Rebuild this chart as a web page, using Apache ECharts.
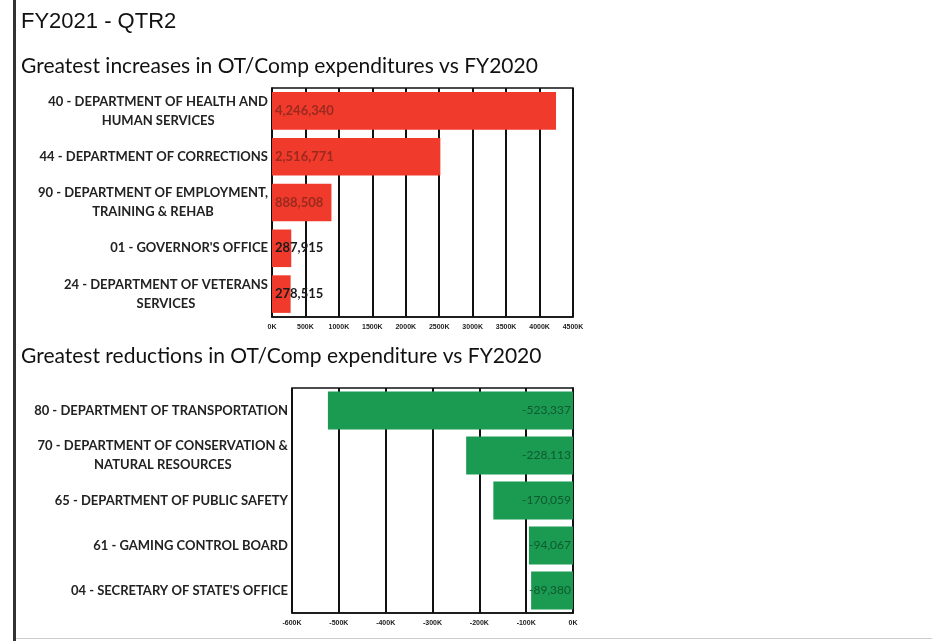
<!DOCTYPE html>
<html>
<head>
<meta charset="utf-8">
<script src="https://cdn.jsdelivr.net/npm/echarts@6/dist/echarts.min.js"></script>
<style>
  html, body { margin: 0; padding: 0; background: #fff; }
  #chart { width: 932px; height: 641px; }
</style>
</head>
<body>
<div id="chart"></div>
<script>
  var increaseCategories = [
    '40 - DEPARTMENT OF HEALTH AND\nHUMAN SERVICES',
    '44 - DEPARTMENT OF CORRECTIONS',
    '90 - DEPARTMENT OF EMPLOYMENT,\nTRAINING & REHAB',
    "01 - GOVERNOR'S OFFICE",
    '24 - DEPARTMENT OF VETERANS\nSERVICES'
  ];
  var increaseValues = [4246340, 2516771, 888508, 287915, 278515];

  var reductionCategories = [
    '80 - DEPARTMENT OF TRANSPORTATION',
    '70 - DEPARTMENT OF CONSERVATION &\nNATURAL RESOURCES',
    '65 - DEPARTMENT OF PUBLIC SAFETY',
    '61 - GAMING CONTROL BOARD',
    "04 - SECRETARY OF STATE'S OFFICE"
  ];
  var reductionValues = [-523337, -228113, -170059, -94067, -89380];

  var increaseTicks = { min: 0, max: 4500000, interval: 500000 };
  var reductionTicks = { min: -600000, max: 0, interval: 100000 };

  function fmtK(v) {
    return Math.round(v / 1000) + 'K';
  }
  function fmtNum(v) {
    var s = Math.abs(v).toString().replace(/\B(?=(\d{3})+(?!\d))/g, ',');
    return (v < 0 ? '-' : '') + s;
  }

  function valueAxis(idx, ticks) {
    return {
      type: 'value',
      gridIndex: idx,
      min: ticks.min,
      max: ticks.max,
      interval: ticks.interval,
      axisLine: { show: true, lineStyle: { color: '#111', width: 1.5 } },
      axisTick: { show: false },
      splitLine: { show: true, lineStyle: { color: '#111', width: 2 } },
      axisLabel: {
        formatter: fmtK,
        fontFamily: 'Liberation Sans',
        fontWeight: 'bold',
        fontSize: 7,
        color: '#222',
        margin: 7
      }
    };
  }

  function catAxis(idx, data) {
    return {
      type: 'category',
      gridIndex: idx,
      inverse: true,
      data: data,
      axisLine: { show: true, lineStyle: { color: '#111', width: 1.5 } },
      axisTick: { show: false },
      axisLabel: {
        align: 'right',
        margin: 4,
        formatter: function (v) {
          // centre each line inside the label block
          return v.split('\n').map(function (l) { return '{c|' + l + '}'; }).join('\n');
        },
        rich: {
          c: {
            fontFamily: 'Lato', fontWeight: 'bold', fontSize: 13,
            color: '#222', lineHeight: 19, align: 'center'
          }
        }
      }
    };
  }

  var chart = echarts.init(document.getElementById('chart'));
  chart.setOption({
    animation: false,
    title: [
      {
        text: 'FY2021 - QTR2', left: 16, top: 6,
        textStyle: { fontFamily: 'Liberation Sans', fontWeight: 'normal', fontSize: 22, color: '#111' }
      },
      {
        text: 'Greatest increases in OT/Comp expenditures vs FY2020', left: 16, top: 51,
        textStyle: { fontFamily: 'Lato', fontWeight: 'normal', fontSize: 21, color: '#111' }
      },
      {
        text: 'Greatest reductions in OT/Comp expenditure vs FY2020', left: 16, top: 341,
        textStyle: { fontFamily: 'Lato', fontWeight: 'normal', fontSize: 21, color: '#111' }
      }
    ],
    graphic: [
      { type: 'rect', shape: { x: 13, y: 0, width: 3, height: 641 }, style: { fill: '#333' } },
      { type: 'rect', shape: { x: 16, y: 638, width: 916, height: 1 }, style: { fill: '#ccc' } }
    ],
    grid: [
      { left: 272, right: 359, top: 88, height: 229, show: true, borderColor: '#111', borderWidth: 1.5, backgroundColor: '#fff' },
      { left: 292, right: 359, top: 388, height: 225, show: true, borderColor: '#111', borderWidth: 1.5, backgroundColor: '#fff' }
    ],
    xAxis: [valueAxis(0, increaseTicks), valueAxis(1, reductionTicks)],
    yAxis: [catAxis(0, increaseCategories), catAxis(1, reductionCategories)],
    series: [
      {
        type: 'bar',
        xAxisIndex: 0,
        yAxisIndex: 0,
        data: increaseValues.map(function (v) {
          return { value: v, label: { color: v > 500000 ? '#9a2a1e' : '#1a1a1a' } };
        }),
        barCategoryGap: '18%',
        itemStyle: { color: '#ef3a2c' },
        label: {
          show: true,
          position: 'insideLeft',
          distance: 3,
          formatter: function (p) { return fmtNum(p.value); },
          fontFamily: 'Lato',
          fontWeight: 'bold',
          fontSize: 13
        }
      },
      {
        type: 'bar',
        xAxisIndex: 1,
        yAxisIndex: 1,
        data: reductionValues,
        barCategoryGap: '16%',
        itemStyle: { color: '#1b9a52' },
        label: {
          show: true,
          position: 'insideRight',
          distance: 2,
          formatter: function (p) { return fmtNum(p.value); },
          fontFamily: 'Lato',
          fontSize: 12,
          color: '#0e5a2e'
        }
      }
    ]
  });
</script>
</body>
</html>
